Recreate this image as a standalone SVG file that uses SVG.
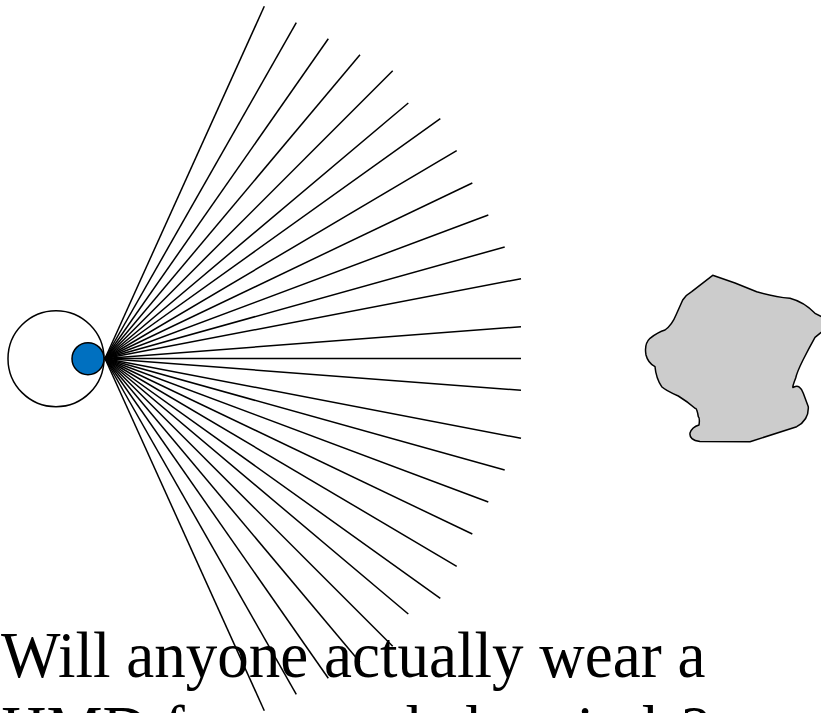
<svg xmlns="http://www.w3.org/2000/svg" width="821" height="713" viewBox="0 0 821 713">
<style>
.ray{stroke:#000;stroke-width:1.5;fill:none}
.outline{stroke:#000;stroke-width:1.5}
.caption{font-family:"Liberation Serif","Times New Roman",serif;font-size:66.5px;fill:#000}
</style>
<rect width="821" height="713" fill="#fff"/>
<g id="connectors">
<line class="ray" x1="105" y1="358.5" x2="264.3" y2="6.3"/>
<line class="ray" x1="105" y1="358.5" x2="296.3" y2="22.7"/>
<line class="ray" x1="105" y1="358.5" x2="328.3" y2="38.7"/>
<line class="ray" x1="105" y1="358.5" x2="360" y2="54.7"/>
<line class="ray" x1="105" y1="358.5" x2="392.7" y2="70.7"/>
<line class="ray" x1="105" y1="358.5" x2="408.3" y2="103"/>
<line class="ray" x1="105" y1="358.5" x2="440.3" y2="118.7"/>
<line class="ray" x1="105" y1="358.5" x2="456.7" y2="150.7"/>
<line class="ray" x1="105" y1="358.5" x2="472.3" y2="183"/>
<line class="ray" x1="105" y1="358.5" x2="488.3" y2="215"/>
<line class="ray" x1="105" y1="358.5" x2="504.7" y2="247"/>
<line class="ray" x1="105" y1="358.5" x2="521" y2="278.7"/>
<line class="ray" x1="105" y1="358.5" x2="521" y2="326.7"/>
<line class="ray" x1="105" y1="358.5" x2="521" y2="358.5"/>
<line class="ray" x1="105" y1="358.5" x2="521" y2="390.3"/>
<line class="ray" x1="105" y1="358.5" x2="521" y2="438.3"/>
<line class="ray" x1="105" y1="358.5" x2="504.7" y2="470"/>
<line class="ray" x1="105" y1="358.5" x2="488.3" y2="502"/>
<line class="ray" x1="105" y1="358.5" x2="472.3" y2="534"/>
<line class="ray" x1="105" y1="358.5" x2="456.7" y2="566.3"/>
<line class="ray" x1="105" y1="358.5" x2="440.3" y2="598.3"/>
<line class="ray" x1="105" y1="358.5" x2="408.3" y2="614"/>
<line class="ray" x1="105" y1="358.5" x2="392.7" y2="646.3"/>
<line class="ray" x1="105" y1="358.5" x2="360" y2="662.3"/>
<line class="ray" x1="105" y1="358.5" x2="328.3" y2="678.3"/>
<line class="ray" x1="105" y1="358.5" x2="296.3" y2="694.3"/>
<line class="ray" x1="105" y1="358.5" x2="264.3" y2="710.7"/>
</g>
<g id="eye">
<circle class="outline" cx="56" cy="358.7" r="48" fill="#fff"/>
<circle class="outline" cx="88" cy="358.7" r="16" fill="#0070c0"/>
</g>
<g id="object">
<path class="outline" fill="#cccccc" stroke-linejoin="round" d="M712.7,275.3 L735,283 L756.7,291.7 Q775,297 790,298.3 Q804,302 815,313.3 L824,318 L824,330 L815,337.3 Q809,348 803,360 Q797,372 795.7,378 Q791,390 794,387 Q800,384 803.3,393.3 L808.3,406.7 Q809,420 796.7,426.7 L750,441.7 L700,441.5 Q689,440 690,433 Q692,427 699,425 Q700,418 698.3,416.7 Q697,408 695,408.3 Q688,402 678.3,396 Q665,390 661.7,386.7 Q656,378 655,366.7 Q648,363 646,355 Q644,344 650,338.3 Q658,332 665,330 Q672,325 676,315 L682.7,300 Q686,295 691.7,291.7 Z"/>
</g>
<g id="caption">
<text class="caption" transform="scale(0.948 1)" x="1" y="677">Will anyone actually wear a</text>
<text class="caption" transform="scale(0.948 1)" x="1" y="751">HMD for extended periods?</text>
</g>
</svg>
